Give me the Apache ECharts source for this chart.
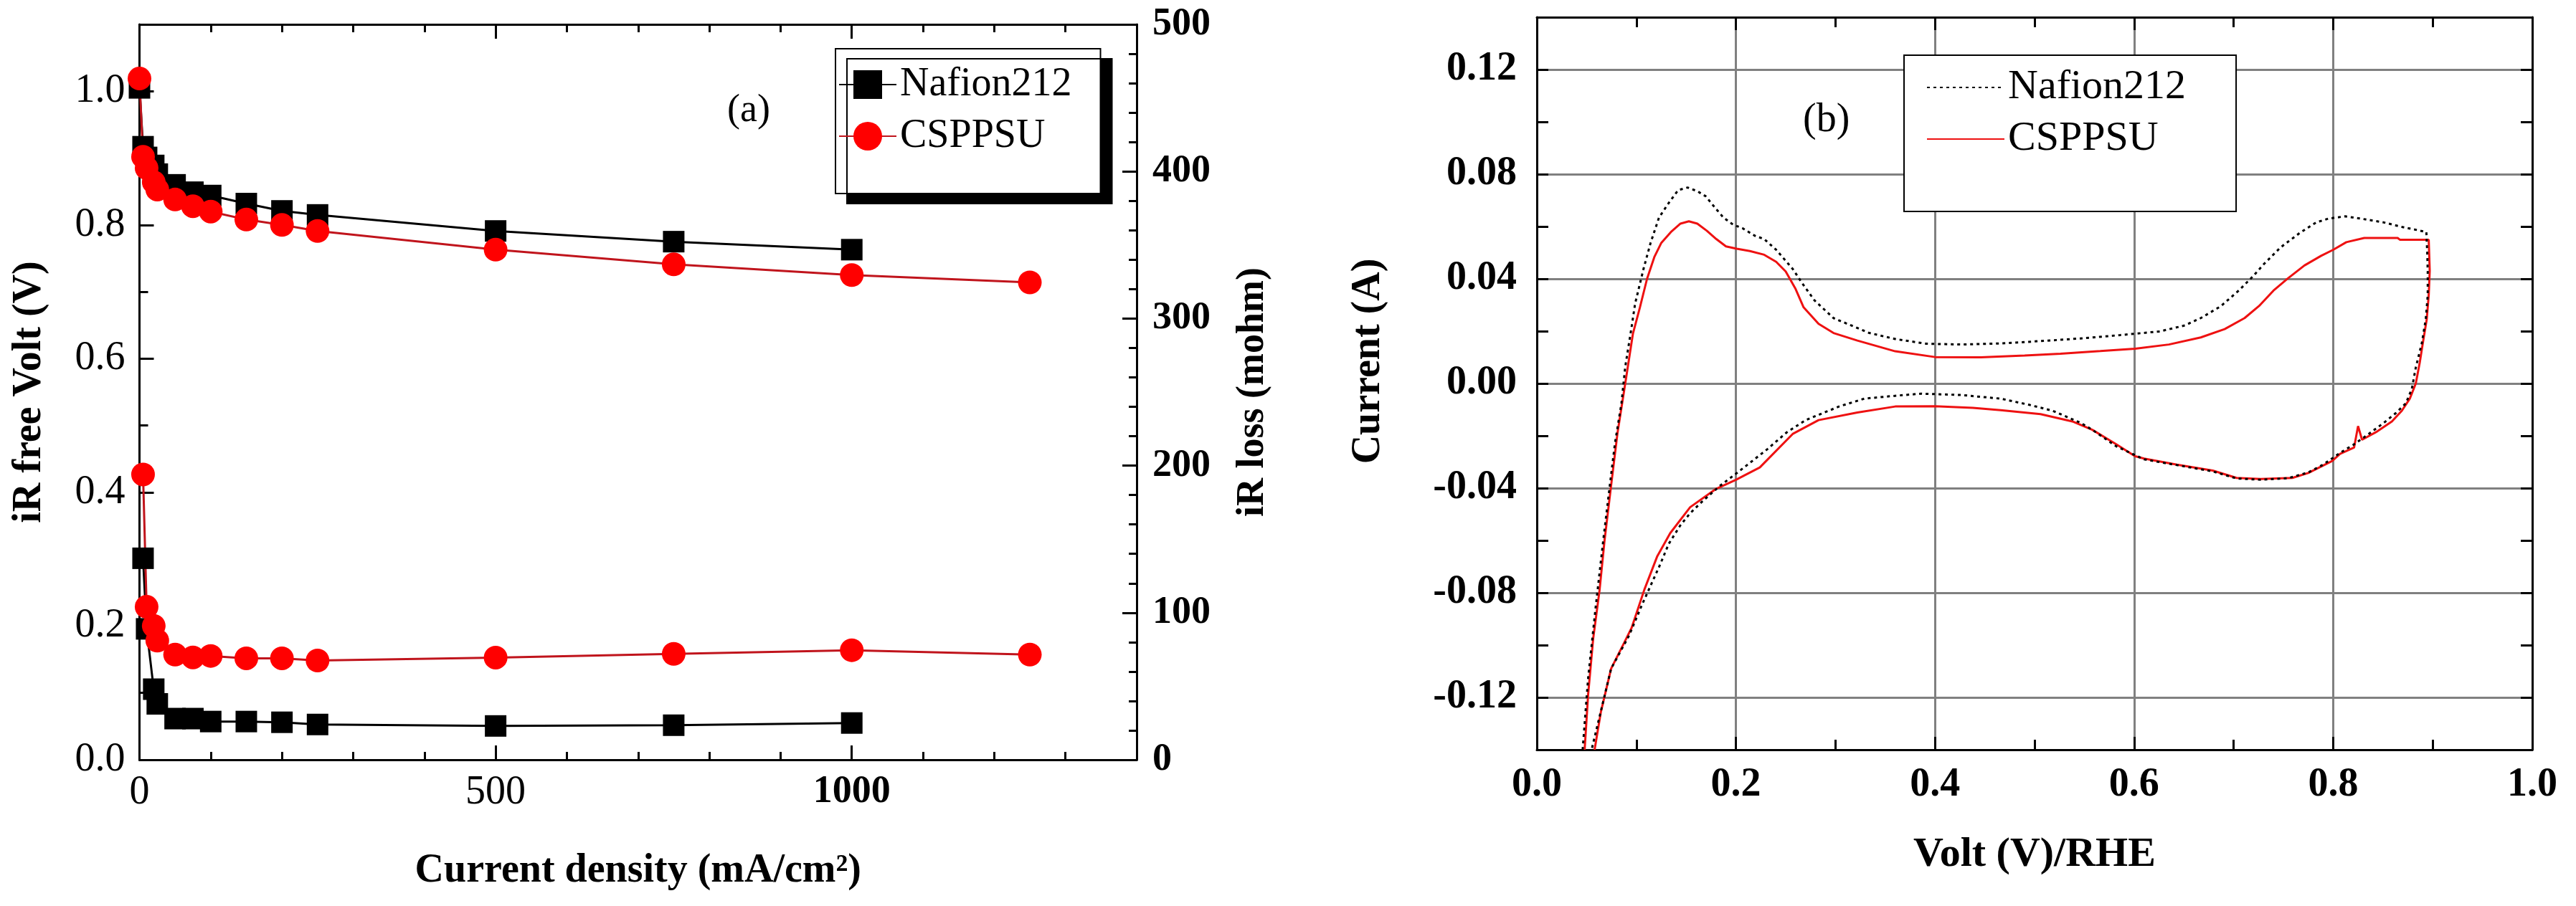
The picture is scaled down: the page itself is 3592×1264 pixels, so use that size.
<!DOCTYPE html>
<html><head><meta charset="utf-8">
<script src="https://cdn.jsdelivr.net/npm/echarts@6/dist/echarts.min.js"></script>
<style>html,body{margin:0;padding:0;background:#fff}#c{width:3592px;height:1264px}</style>
</head><body><div id="c"></div>
<script>
const FONT = '"Liberation Serif", "Times New Roman", serif';

// ---- Panel (a): polarization data ----
const nafionCurrent = [0, 5, 10, 20, 25, 50, 75, 100, 150, 200, 250, 500, 750, 1000];
const nafionVolt    = [1.005, 0.917, 0.901, 0.889, 0.876, 0.860, 0.849, 0.844, 0.832, 0.821, 0.815, 0.791, 0.775, 0.763];
const nafionIRCurrent = [5, 10, 20, 25, 50, 75, 100, 150, 200, 250, 500, 750, 1000];
const nafionIRLoss    = [137, 89, 48, 38, 28, 28, 26, 26, 25.5, 24, 23, 23.5, 25];

const csppsuCurrent = [0, 5, 10, 20, 25, 50, 75, 100, 150, 200, 250, 500, 750, 1000, 1250];
const csppsuVolt    = [1.019, 0.902, 0.885, 0.864, 0.853, 0.838, 0.828, 0.820, 0.808, 0.800, 0.791, 0.763, 0.741, 0.725, 0.714];
const csppsuIRCurrent = [5, 10, 20, 25, 50, 75, 100, 150, 200, 250, 500, 750, 1000, 1250];
const csppsuIRLoss    = [194, 104, 91, 81, 71.5, 69.6, 70.6, 69, 69, 67.5, 69.5, 72, 74.5, 71.5];

// ---- Panel (b): cyclic voltammograms [V vs RHE, A] ----
const nafionCV = [
[0.046,-0.140],[0.0515,-0.1127],[0.059,-0.0858],[0.067,-0.059],[0.0733,-0.039],[0.0785,-0.0228],[0.085,-0.0076],[0.0888,0.0064],[0.0952,0.0216],[0.0987,0.0305],[0.1071,0.0437],[0.1143,0.0538],[0.1227,0.0634],[0.1323,0.0689],[0.1419,0.0739],[0.1515,0.0749],[0.1612,0.0735],[0.1695,0.0716],[0.1803,0.0666],[0.1875,0.0634],[0.1972,0.0607],[0.2068,0.0593],[0.2188,0.0565],[0.2284,0.0552],[0.2404,0.0511],[0.250,0.0469],[0.2572,0.0437],[0.2668,0.0382],[0.2788,0.0318],[0.298,0.025],[0.334,0.0193],[0.360,0.017],[0.391,0.0152],[0.426,0.0149],[0.466,0.0153],[0.506,0.0162],[0.546,0.0172],[0.586,0.0185],[0.626,0.0199],[0.651,0.0222],[0.667,0.025],[0.687,0.0295],[0.7051,0.0355],[0.7195,0.041],[0.7303,0.0456],[0.7471,0.052],[0.7663,0.0575],[0.7831,0.0616],[0.7951,0.063],[0.812,0.0639],[0.8264,0.0631],[0.8504,0.0616],[0.8696,0.0598],[0.8936,0.0579],
[0.8945,0.050],[0.895,0.0428],[0.895,0.0337],[0.893,0.0245],[0.889,0.0153],[0.883,0.0061],[0.879,-0.0021],[0.873,-0.0076],[0.863,-0.0113],[0.851,-0.015],[0.835,-0.0195],[0.820,-0.0235],[0.807,-0.0265],[0.790,-0.031],[0.775,-0.034],[0.755,-0.0362],[0.727,-0.0368],[0.703,-0.0363],[0.679,-0.0336],[0.643,-0.0312],[0.610,-0.029],[0.582,-0.024],[0.558,-0.0177],[0.546,-0.015],[0.518,-0.0104],[0.494,-0.0081],[0.466,-0.0058],[0.426,-0.0044],[0.386,-0.0039],[0.360,-0.0047],[0.329,-0.0058],[0.3036,-0.0088],[0.270,-0.014],[0.251,-0.0187],[0.2316,-0.0251],[0.200,-0.0345],[0.184,-0.0391],[0.165,-0.0455],[0.154,-0.0496],[0.144,-0.0543],[0.1325,-0.0613],[0.1235,-0.0695],[0.1145,-0.0771],[0.1055,-0.0847],[0.0926,-0.0964],[0.0746,-0.109],[0.055,-0.140]
];
const csppsuCV = [
[0.048,-0.140],[0.0515,-0.119],[0.0566,-0.0975],[0.063,-0.079],[0.068,-0.060],[0.0746,-0.039],[0.081,-0.019],[0.0888,0.000],[0.0965,0.019],[0.1035,0.029],[0.1107,0.040],[0.118,0.0483],[0.1251,0.0538],[0.1347,0.0579],[0.1443,0.0611],[0.1527,0.062],[0.1612,0.0611],[0.1707,0.0584],[0.1803,0.0552],[0.190,0.0524],[0.2008,0.0515],[0.214,0.0506],[0.2284,0.0492],[0.2404,0.0465],[0.250,0.0428],[0.2596,0.0364],[0.268,0.0291],[0.283,0.0228],[0.298,0.0193],[0.322,0.0164],[0.360,0.0123],[0.400,0.0101],[0.446,0.0100],[0.490,0.0107],[0.526,0.0114],[0.566,0.0124],[0.601,0.0133],[0.635,0.0149],[0.667,0.0176],[0.691,0.0208],[0.711,0.0250],[0.7255,0.0296],[0.740,0.0355],[0.7543,0.0401],[0.7711,0.0451],[0.7879,0.0488],[0.800,0.0511],[0.8132,0.054],[0.8312,0.0556],[0.8648,0.0556],[0.8672,0.0549],[0.896,0.0549],
[0.897,0.043],[0.896,0.0337],[0.894,0.0245],[0.890,0.0153],[0.887,0.008],[0.883,0.000],[0.877,-0.0058],[0.869,-0.0104],[0.859,-0.0145],[0.843,-0.0186],[0.829,-0.0215],[0.825,-0.0163],[0.821,-0.0245],[0.807,-0.0269],[0.799,-0.0296],[0.775,-0.0342],[0.759,-0.0361],[0.727,-0.0365],[0.703,-0.0361],[0.679,-0.0333],[0.643,-0.031],[0.610,-0.0287],[0.601,-0.0278],[0.582,-0.0232],[0.558,-0.0177],[0.538,-0.0145],[0.506,-0.0117],[0.466,-0.0102],[0.438,-0.0093],[0.400,-0.0087],[0.360,-0.0088],[0.322,-0.0111],[0.283,-0.014],[0.257,-0.0193],[0.224,-0.0321],[0.200,-0.0368],[0.180,-0.0403],[0.154,-0.0473],[0.134,-0.0572],[0.121,-0.066],[0.108,-0.0788],[0.0952,-0.0934],[0.0875,-0.0993],[0.0746,-0.109],[0.0643,-0.1256],[0.058,-0.140]
];

const legendNamesA = ['Nafion212', 'CSPPSU'];
const legendNamesB = ['Nafion212 ', 'CSPPSU '];

function zip(xs, ys) { return xs.map((x, i) => [x, ys[i]]); }

const blk = '#000';
const tickStyle = { color: blk, width: 3 };
const lineAx = { show: true, onZero: false, lineStyle: { color: blk, width: 3 } };
const noLine = { show: false, onZero: false };
const txt = (size, bold) => ({ fontFamily: FONT, fontSize: size, fontWeight: bold ? 'bold' : 'normal', color: blk });

const chart = echarts.init(document.getElementById('c'), null, { renderer: 'canvas', width: 3592, height: 1264 });

const option = {
  animation: false,
  backgroundColor: '#fff',
  title: [
    { text: '(a)', left: 1014, top: 128, padding: 0, textStyle: txt(54, false) },
    { text: '(b)', left: 2514, top: 140, padding: 0, textStyle: txt(56, false) }
  ],
  legend: [
    { data: legendNamesA, orient: 'vertical', left: 1165, top: 68, padding: [22, 40, 52, 4], itemGap: 16,
      itemWidth: 80, itemHeight: 50, textStyle: txt(56, false), backgroundColor: '#fff',
      borderColor: blk, borderWidth: 2, borderRadius: 0, shadowColor: '#000', shadowBlur: 0, shadowOffsetX: 16, shadowOffsetY: 14 },
    { data: legendNamesB, formatter: n => n.trim(), orient: 'vertical', left: 2655, top: 77, padding: [16, 70, 72, 31], itemGap: 14,
      itemWidth: 108, itemHeight: 20, textStyle: txt(58, false), backgroundColor: '#fff',
      itemStyle: { opacity: 0 },
      borderColor: blk, borderWidth: 2, borderRadius: 0 }
  ],
  grid: [
    { left: 194.5, top: 34, width: 1390.5, height: 1026, containLabel: false },
    { left: 2143, top: 24, width: 1388, height: 1022, containLabel: false }
  ],
  xAxis: [
    { gridIndex: 0, type: 'value', min: 0, max: 1400, interval: 500, position: 'bottom',
      axisLine: lineAx, axisTick: { show: true, inside: true, length: 20, lineStyle: tickStyle },
      axisLabel: { show: true, showMaxLabel: false, margin: 18, ...txt(56, false),
        formatter: v => v === 1000 ? '{b|1000}' : String(v), rich: { b: txt(54, true) } },
      splitLine: { show: false },
      name: 'Current density (mA/cm²)', nameLocation: 'middle', nameGap: 128, nameTextStyle: txt(56, true) },
    { gridIndex: 0, type: 'value', min: 0, max: 1400, interval: 100, position: 'bottom',
      axisLine: noLine, axisTick: { show: true, inside: true, length: 11, lineStyle: tickStyle },
      axisLabel: { show: false }, splitLine: { show: false } },
    { gridIndex: 0, type: 'value', min: 0, max: 1400, interval: 500, position: 'top',
      axisLine: lineAx, axisTick: { show: true, inside: true, length: 20, lineStyle: tickStyle },
      axisLabel: { show: false }, splitLine: { show: false } },
    { gridIndex: 0, type: 'value', min: 0, max: 1400, interval: 100, position: 'top',
      axisLine: noLine, axisTick: { show: true, inside: true, length: 11, lineStyle: tickStyle },
      axisLabel: { show: false }, splitLine: { show: false } },
    { gridIndex: 1, type: 'value', min: 0, max: 1, interval: 0.2, position: 'bottom',
      axisLine: lineAx, axisTick: { show: true, inside: true, length: 18, lineStyle: tickStyle },
      minorTick: { show: true, splitNumber: 2, length: 14, lineStyle: tickStyle },
      axisLabel: { show: true, margin: 22, ...txt(56, true), formatter: v => v.toFixed(1) },
      splitLine: { show: true, lineStyle: { color: ['rgba(0,0,0,0)', '#808080', '#808080', '#808080', '#808080', 'rgba(0,0,0,0)'], width: 3 } },
      name: 'Volt (V)/RHE', nameLocation: 'middle', nameGap: 118, nameTextStyle: txt(58, true) },
    { gridIndex: 1, type: 'value', min: 0, max: 1, interval: 0.2, position: 'top',
      axisLine: lineAx, axisTick: { show: true, inside: true, length: 18, lineStyle: tickStyle },
      minorTick: { show: true, splitNumber: 2, length: 14, lineStyle: tickStyle },
      axisLabel: { show: false }, splitLine: { show: false } }
  ],
  yAxis: [
    { gridIndex: 0, type: 'value', min: 0, max: 1.1, interval: 0.2, position: 'left',
      axisLine: lineAx, axisTick: { show: true, inside: true, length: 20, lineStyle: tickStyle },
      axisLabel: { show: true, showMaxLabel: false, margin: 20, ...txt(56, false), formatter: v => v.toFixed(1) },
      splitLine: { show: false },
      name: 'iR free Volt (V)', nameLocation: 'middle', nameGap: 125, nameTextStyle: txt(56, true) },
    { gridIndex: 0, type: 'value', min: 0, max: 1.1, interval: 0.1, position: 'left',
      axisLine: noLine, axisTick: { show: true, inside: true, length: 12, lineStyle: tickStyle },
      axisLabel: { show: false }, splitLine: { show: false } },
    { gridIndex: 0, type: 'value', min: 0, max: 500, interval: 100, position: 'right',
      axisLine: lineAx, axisTick: { show: true, inside: true, length: 20, lineStyle: tickStyle },
      minorTick: { show: true, splitNumber: 5, length: 11, lineStyle: tickStyle },
      axisLabel: { show: true, margin: 22, ...txt(54, true) },
      splitLine: { show: false },
      name: 'iR loss (mohm)', nameLocation: 'middle', nameGap: 135, nameTextStyle: txt(54, true) },
    { gridIndex: 1, type: 'value', min: -0.14, max: 0.14, interval: 0.02, position: 'left',
      axisLine: lineAx, axisTick: { show: true, inside: true, length: 16, lineStyle: tickStyle },
      axisLabel: { show: true, margin: 28, ...txt(56, true),
        formatter: v => { const h = Math.round(v * 100); return (h % 4 === 0) ? v.toFixed(2) : ''; } },
      splitLine: { show: true, lineStyle: { color: ['rgba(0,0,0,0)', '#808080'], width: 3 } },
      name: 'Current (A)', nameLocation: 'middle', nameGap: 206, nameTextStyle: { ...txt(56, true), padding: [0, 0, 0, 62] } },
    { gridIndex: 1, type: 'value', min: -0.14, max: 0.14, interval: 0.02, position: 'right',
      axisLine: lineAx, axisTick: { show: true, inside: true, length: 16, lineStyle: tickStyle },
      axisLabel: { show: false }, splitLine: { show: false } }
  ],
  series: [
    { name: 'Nafion212', type: 'line', xAxisIndex: 0, yAxisIndex: 0, data: zip(nafionCurrent, nafionVolt),
      symbol: 'rect', symbolSize: 30, itemStyle: { color: blk }, lineStyle: { color: blk, width: 3 } },
    { name: 'Nafion212', type: 'line', xAxisIndex: 0, yAxisIndex: 2, data: zip(nafionIRCurrent, nafionIRLoss),
      symbol: 'rect', symbolSize: 30, itemStyle: { color: blk }, lineStyle: { color: blk, width: 3 } },
    { name: 'CSPPSU', type: 'line', xAxisIndex: 0, yAxisIndex: 0, data: zip(csppsuCurrent, csppsuVolt),
      symbol: 'circle', symbolSize: 33, itemStyle: { color: '#ff0000' }, lineStyle: { color: '#c0141c', width: 3 } },
    { name: 'CSPPSU', type: 'line', xAxisIndex: 0, yAxisIndex: 2, data: zip(csppsuIRCurrent, csppsuIRLoss),
      symbol: 'circle', symbolSize: 33, itemStyle: { color: '#ff0000' }, lineStyle: { color: '#c0141c', width: 3 } },
    { name: 'CSPPSU ', type: 'line', xAxisIndex: 4, yAxisIndex: 3, data: csppsuCV,
      symbol: 'none', showSymbol: false, itemStyle: { color: '#ee1111' }, lineStyle: { color: '#ee1111', width: 3 } },
    { name: 'Nafion212 ', type: 'line', xAxisIndex: 4, yAxisIndex: 3, data: nafionCV,
      symbol: 'none', showSymbol: false, itemStyle: { color: blk }, lineStyle: { color: blk, width: 3, type: [4, 5] } }
  ]
};
chart.setOption(option);
</script></body></html>
